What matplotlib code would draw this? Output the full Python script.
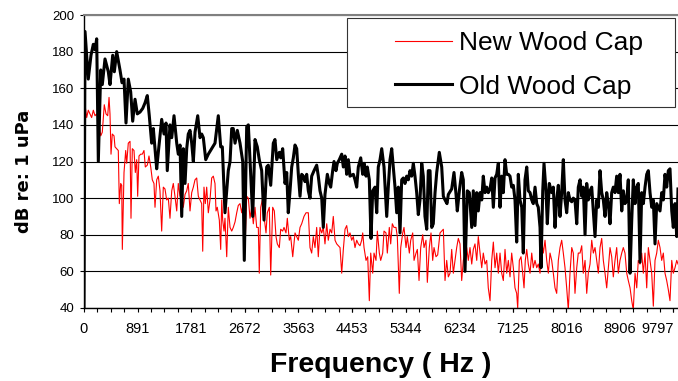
import matplotlib
matplotlib.use("Agg")
import matplotlib.pyplot as plt
from matplotlib.patches import Rectangle
from matplotlib.ticker import MultipleLocator, FixedLocator, FixedFormatter

plt.rcParams['font.family'] = ['Liberation Sans', 'DejaVu Sans']

# frequency (Hz) / level (dB re: 1 uPa)
old_hz = [0, 17, 71, 116, 155, 183, 211, 238, 278, 304, 349, 404, 432, 477, 504, 543, 598, 632, 665,
          698, 736, 776, 809, 848, 886, 931, 976, 1014, 1052, 1085, 1125, 1152, 1208, 1235, 1291,
          1330, 1363, 1384, 1429, 1458, 1496, 1541, 1567, 1596, 1624, 1650, 1679, 1707, 1733, 1762,
          1790, 1817, 1845, 1890, 1928, 1956, 1983, 2023, 2066, 2122, 2177, 2232, 2272, 2299, 2343,
          2398, 2427, 2455, 2481, 2510, 2548, 2593, 2638, 2664, 2704, 2731, 2759, 2804, 2842, 2880,
          2913, 2953, 2992, 3036, 3063, 3103, 3146, 3174, 3203, 3246, 3269, 3302, 3341, 3369, 3395,
          3424, 3452, 3479, 3507, 3535, 3562, 3590, 3618, 3645, 3673, 3701, 3728, 3756, 3784, 3823,
          3867, 3894, 3922, 3951, 3977, 4005, 4044, 4077, 4100, 4133, 4155, 4188, 4210, 4243, 4283,
          4310, 4338, 4366, 4393, 4421, 4476, 4504, 4532, 4559, 4599, 4632, 4654, 4687, 4708, 4742,
          4770, 4798, 4836, 4865, 4891, 4920, 4948, 4986, 5031, 5057, 5086, 5114, 5141, 5169, 5197,
          5224, 5252, 5280, 5307, 5335, 5363, 5390, 5418, 5446, 5473, 5501, 5529, 5556, 5584, 5613,
          5639, 5667, 5696, 5722, 5751, 5779, 5805, 5834, 5862, 5905, 5945, 5972, 6000, 6033, 6055,
          6111, 6149, 6183, 6204, 6238, 6277, 6304, 6332, 6370, 6404, 6444, 6470, 6498, 6527, 6553,
          6582, 6610, 6636, 6665, 6693, 6719, 6748, 6776, 6803, 6831, 6859, 6886, 6914, 6942, 6969,
          6997, 7025, 7052, 7080, 7108, 7135, 7163, 7191, 7218, 7246, 7275, 7301, 7329, 7358, 7384,
          7413, 7441, 7467, 7496, 7524, 7550, 7579, 7595, 7624, 7645, 7678, 7700, 7733, 7773, 7800,
          7828, 7856, 7883, 7911, 7939, 7966, 7994, 8022, 8049, 8077, 8106, 8132, 8160, 8189, 8215,
          8244, 8272, 8298, 8327, 8355, 8381, 8410, 8438, 8465, 8493, 8521, 8548, 8576, 8604, 8631,
          8659, 8687, 8714, 8742, 8770, 8797, 8825, 8853, 8880, 8908, 8937, 8963, 8991, 9020, 9046,
          9075, 9103, 9129, 9158, 9186, 9212, 9241, 9269, 9296, 9324, 9352, 9379, 9407, 9435, 9462,
          9490, 9518, 9545, 9573, 9601, 9628, 9656, 9684, 9711, 9739, 9768, 9794, 9822, 9851, 9872]
old_db = [40, 191, 165, 178, 184, 181, 187, 120, 170, 162, 176, 169, 162, 178, 169, 180, 170, 163, 165,
          141, 165, 158, 142, 154, 146, 147, 149, 152, 156, 145, 130, 138, 116, 125, 143,
          135, 141, 115, 140, 133, 145, 130, 124, 129, 90, 127, 108, 127, 135, 137,
          130, 120, 136, 145, 133, 135, 133, 121, 124, 127, 130, 145, 128, 128, 92,
          115, 120, 138, 138, 130, 137, 130, 120, 66, 139, 140, 121, 90, 132, 128,
          121, 115, 88, 117, 118, 107, 130, 132, 121, 125, 122, 127, 108, 114, 92,
          104, 117, 122, 129, 127, 113, 101, 113, 112, 109, 113, 104, 100, 112, 115,
          118, 112, 104, 100, 84, 102, 113, 108, 106, 115, 120, 115, 119, 121, 124,
          117, 123, 113, 121, 112, 113, 110, 106, 117, 122, 113, 119, 112, 117, 110,
          78, 104, 106, 92, 117, 121, 127, 117, 90, 106, 121, 127, 117, 106, 92,
          106, 81, 110, 111, 108, 112, 110, 115, 112, 119, 112, 103, 91, 99, 119,
          112, 90, 83, 115, 115, 84, 86, 103, 114, 125, 117, 101, 99, 97, 102,
          105, 114, 102, 93, 104, 114, 110, 60, 104, 103, 84, 104, 85, 103, 93,
          103, 99, 112, 103, 106, 103, 105, 111, 95, 111, 113, 119, 95, 112, 103,
          121, 113, 113, 112, 106, 107, 99, 76, 113, 99, 95, 70, 110, 117, 104,
          103, 99, 97, 106, 97, 95, 84, 62, 104, 119, 104, 86, 108, 103, 106,
          84, 99, 107, 90, 103, 121, 99, 92, 103, 99, 98, 100, 99, 86, 106,
          110, 101, 106, 80, 108, 99, 104, 106, 93, 79, 99, 95, 115, 103, 99,
          90, 103, 97, 86, 103, 106, 103, 112, 103, 113, 93, 104, 97, 99, 110,
          59, 88, 110, 97, 106, 108, 65, 103, 97, 106, 113, 115, 103, 95, 99,
          75, 97, 95, 93, 103, 99, 113, 106, 115, 116, 93, 84, 97, 79, 105]

new_hz = [0, 45, 71, 100, 127, 155, 183, 211, 238, 278, 304, 337, 366, 394, 416, 432, 449, 470, 499,
          515, 543, 570, 587, 610, 627, 637, 665, 693, 710, 736, 765, 781, 803, 831, 853, 876, 892,
          914, 942, 969, 997, 1019, 1052, 1080, 1109, 1135, 1163, 1180, 1208, 1235, 1263, 1291, 1318,
          1346, 1374, 1401, 1429, 1458, 1484, 1512, 1541, 1567, 1596, 1624, 1650, 1679, 1707, 1733,
          1762, 1790, 1817, 1845, 1873, 1900, 1928, 1956, 1973, 1994, 2016, 2039, 2066, 2094, 2122,
          2149, 2177, 2194, 2215, 2249, 2272, 2289, 2305, 2327, 2343, 2372, 2398, 2427, 2455, 2481,
          2510, 2538, 2564, 2593, 2621, 2648, 2676, 2704, 2731, 2759, 2787, 2814, 2842, 2870, 2897,
          2913, 2937, 2970, 2992, 3025, 3046, 3080, 3103, 3136, 3163, 3191, 3213, 3246, 3269, 3302,
          3324, 3357, 3379, 3412, 3435, 3469, 3507, 3535, 3562, 3590, 3618, 3656, 3690, 3728, 3756,
          3784, 3811, 3839, 3867, 3894, 3922, 3951, 3977, 4005, 4034, 4060, 4089, 4117, 4143, 4172,
          4200, 4255, 4283, 4310, 4338, 4366, 4393, 4421, 4449, 4476, 4504, 4532, 4559, 4587, 4615,
          4632, 4654, 4687, 4715, 4742, 4765, 4798, 4820, 4853, 4875, 4908, 4931, 4964, 4986, 5019,
          5041, 5074, 5097, 5124, 5152, 5185, 5207, 5240, 5264, 5297, 5318, 5352, 5373, 5407, 5430,
          5463, 5485, 5518, 5540, 5568, 5596, 5629, 5651, 5684, 5706, 5739, 5767, 5795, 5817, 5850,
          5878, 5917, 5945, 5972, 6000, 6028, 6055, 6083, 6111, 6138, 6166, 6194, 6221, 6249, 6277,
          6304, 6332, 6360, 6387, 6415, 6444, 6470, 6498, 6527, 6553, 6582, 6610, 6636, 6665, 6693,
          6719, 6748, 6776, 6803, 6831, 6859, 6886, 6914, 6942, 6969, 6997, 7025, 7052, 7080, 7108,
          7135, 7163, 7191, 7208, 7235, 7263, 7291, 7313, 7334, 7358, 7384, 7413, 7441, 7467, 7496,
          7524, 7550, 7579, 7607, 7634, 7662, 7690, 7717, 7745, 7773, 7800, 7828, 7856, 7883, 7911,
          7939, 7966, 7994, 8022, 8049, 8077, 8106, 8132, 8160, 8189, 8215, 8244, 8272, 8298, 8327,
          8355, 8381, 8410, 8438, 8465, 8493, 8521, 8548, 8576, 8604, 8631, 8659, 8687, 8714, 8742,
          8770, 8797, 8825, 8853, 8880, 8908, 8937, 8963, 8991, 9020, 9046, 9075, 9103, 9129, 9158,
          9186, 9212, 9241, 9269, 9296, 9324, 9352, 9379, 9407, 9435, 9462, 9490, 9518, 9545, 9573,
          9601, 9628, 9656, 9684, 9711, 9739, 9768, 9794, 9822, 9851, 9872]
new_db = [155, 144, 148, 146, 144, 148, 145, 146, 143, 134, 136, 151, 146, 145, 155, 146, 124, 135, 134,
          128, 127, 126, 97, 108, 107, 72, 114, 126, 119, 130, 131, 89, 127, 126, 114, 121, 101,
          123, 124, 124, 126, 117, 118, 123, 117, 110, 108, 95, 110, 112, 104, 82, 106,
          105, 99, 100, 89, 104, 108, 101, 93, 108, 101, 103, 95, 102, 104, 108,
          93, 103, 106, 110, 111, 101, 99, 97, 71, 106, 97, 106, 92, 99, 111,
          112, 108, 93, 95, 88, 72, 99, 88, 82, 89, 68, 95, 84, 82, 84,
          87, 92, 96, 97, 92, 98, 73, 101, 100, 89, 95, 86, 95, 84, 84,
          59, 95, 100, 90, 81, 92, 95, 58, 95, 93, 79, 75, 73, 83, 82,
          84, 81, 89, 77, 79, 68, 81, 79, 77, 84, 86, 90, 92, 92, 73,
          70, 79, 73, 84, 68, 84, 81, 84, 75, 86, 77, 83, 81, 90, 77,
          75, 73, 59, 72, 83, 85, 79, 81, 77, 79, 73, 77, 75, 74, 77,
          81, 73, 66, 68, 44, 70, 59, 70, 66, 82, 70, 66, 70, 82, 81,
          70, 84, 75, 86, 84, 84, 79, 48, 73, 81, 84, 73, 79, 70, 77,
          81, 66, 70, 72, 55, 73, 80, 73, 77, 54, 73, 81, 66, 73, 68,
          69, 81, 82, 83, 55, 66, 57, 59, 72, 59, 66, 73, 78, 75, 55,
          66, 70, 73, 66, 73, 64, 72, 75, 66, 79, 70, 62, 70, 64, 66,
          51, 44, 66, 76, 62, 70, 59, 70, 59, 55, 72, 59, 66, 57, 70,
          62, 51, 48, 40, 66, 68, 59, 51, 66, 72, 64, 59, 70, 62, 66,
          62, 64, 59, 77, 70, 77, 66, 59, 70, 66, 59, 51, 48, 66, 73,
          77, 70, 62, 51, 39, 59, 73, 70, 48, 62, 70, 70, 74, 59, 66,
          48, 59, 64, 77, 70, 73, 66, 59, 73, 78, 66, 59, 51, 62, 73,
          68, 57, 66, 73, 59, 66, 70, 73, 70, 59, 55, 51, 44, 39, 59,
          51, 66, 64, 70, 59, 70, 51, 73, 66, 59, 41, 66, 70, 77, 73,
          66, 70, 59, 55, 50, 44, 66, 59, 62, 66, 64]

tick_hz = [0, 890.6, 1781.2, 2671.9, 3562.5, 4453.1, 5343.8, 6234.4, 7125.0, 8015.7, 8906.2, 9796.9]
tick_labels = ['0', '891', '1781', '2672', '3563', '4453', '5344', '6234', '7125', '8016', '8906', '9797']

fig = plt.figure(figsize=(6.78, 3.81), dpi=100)
ax = fig.add_axes([84 / 678, 1 - 308 / 381, 594 / 678, 293 / 381])

new_line, = ax.plot(new_hz, new_db, color='#ff0000', lw=0.8)
old_line, = ax.plot(old_hz, old_db, color='black', lw=2.2)

ax.set_xlim(0, 9872)
ax.set_ylim(40, 200)
ax.yaxis.set_major_locator(MultipleLocator(20))
ax.grid(axis='y', color='black', lw=0.8)
ax.set_axisbelow(True)

ax.xaxis.set_major_locator(FixedLocator(tick_hz))
ax.xaxis.set_major_formatter(FixedFormatter(tick_labels))
ax.xaxis.set_minor_locator(MultipleLocator(890.6 / 4))
ax.tick_params(axis='x', which='both', direction='out', length=3, width=0.8, pad=7, labelsize=10.5)
ax.tick_params(axis='y', direction='out', length=3, width=0.8, pad=4, labelsize=9.5)

for side in ['left', 'bottom']:
    ax.spines[side].set_color('black')
    ax.spines[side].set_linewidth(1)
ax.spines['right'].set_visible(False)
ax.spines['top'].set_color('#808080')
ax.spines['top'].set_linewidth(1.5)

ax.set_xlabel('Frequency ( Hz )', fontsize=20.5, fontweight='bold', va='center')
ax.xaxis.set_label_coords(0.5, (308 - 365) / 293)
ax.set_ylabel('dB re: 1 uPa', fontsize=13, fontweight='bold', va='center',
              family=['DejaVu Sans'])
ax.yaxis.set_label_coords((24 - 84) / 594, (308 - 171) / 293)

fig.canvas.draw()
ax.get_xticklabels()[-1].set_horizontalalignment('right')

# legend box
fig.patches.append(Rectangle((347 / 678, 1 - 107 / 381), 328 / 678, 89 / 381,
                             transform=fig.transFigure, facecolor='white',
                             edgecolor='#333333', lw=0.8, zorder=5))
leg = fig.legend([new_line, old_line], ['New Wood Cap', 'Old Wood Cap'],
                 loc='upper left', bbox_to_anchor=(395 / 678, 1 - 31 / 381),
                 bbox_transform=fig.transFigure, frameon=False, fontsize=19,
                 handlelength=2.17, handletextpad=0.26, labelspacing=0.74,
                 borderpad=0, borderaxespad=0)
leg.set_zorder(6)

fig.savefig('out.png', dpi=100)
